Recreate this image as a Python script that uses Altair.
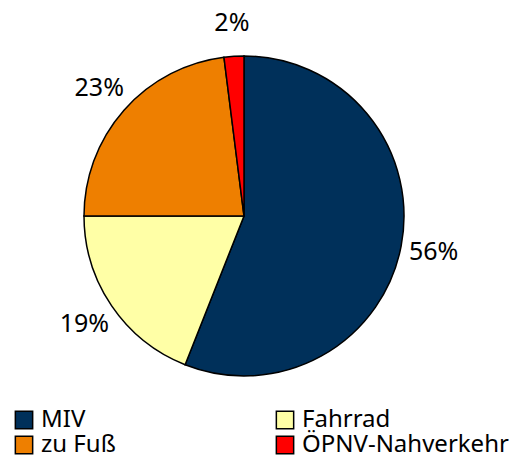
import altair as alt
import pandas as pd

categories = ["MIV", "Fahrrad", "zu Fuß", "ÖPNV-Nahverkehr"]
values = [56, 19, 23, 2]
labels = ["56%", "19%", "23%", "2%"]
colors = ["#00305A", "#FFFFA6", "#EE7F00", "#FF0000"]

# legend is filled column by column: MIV, zu Fuß | Fahrrad, ÖPNV
legend_order = ["MIV", "zu Fuß", "Fahrrad", "ÖPNV-Nahverkehr"]
legend_colors = [colors[categories.index(c)] for c in legend_order]

df = pd.DataFrame({"cat": categories, "val": values, "lab": labels, "order": list(range(len(categories)))})

FONT = "Noto Sans"

base = alt.Chart(df).encode(
    theta=alt.Theta("val:Q", stack=True),
    order=alt.Order("order:Q"),
)

pie = base.mark_arc(outerRadius=160, stroke="black", strokeWidth=1.5).encode(
    color=alt.Color(
        "cat:N",
        sort=legend_order,
        scale=alt.Scale(domain=legend_order, range=legend_colors),
        legend=alt.Legend(
            title=None,
            orient="none",
            legendX=4,
            legendY=400,
            columns=2,
            columnPadding=157,
            rowPadding=1,
            symbolType="square",
            symbolSize=300,
            symbolStrokeColor="black",
            symbolStrokeWidth=1.5,
            labelFont=FONT,
            labelFontSize=24,
            labelColor="black",
            labelOffset=5,
            labelLimit=400,
        ),
    )
)

text = base.mark_text(radius=193, font=FONT, fontSize=25, color="black").encode(text="lab:N")

chart = (
    (pie + text)
    .properties(width=472, height=416, padding=0)
    .configure_view(stroke=None)
)

chart.save("out.html", embed_options={"renderer": "svg", "actions": False})
